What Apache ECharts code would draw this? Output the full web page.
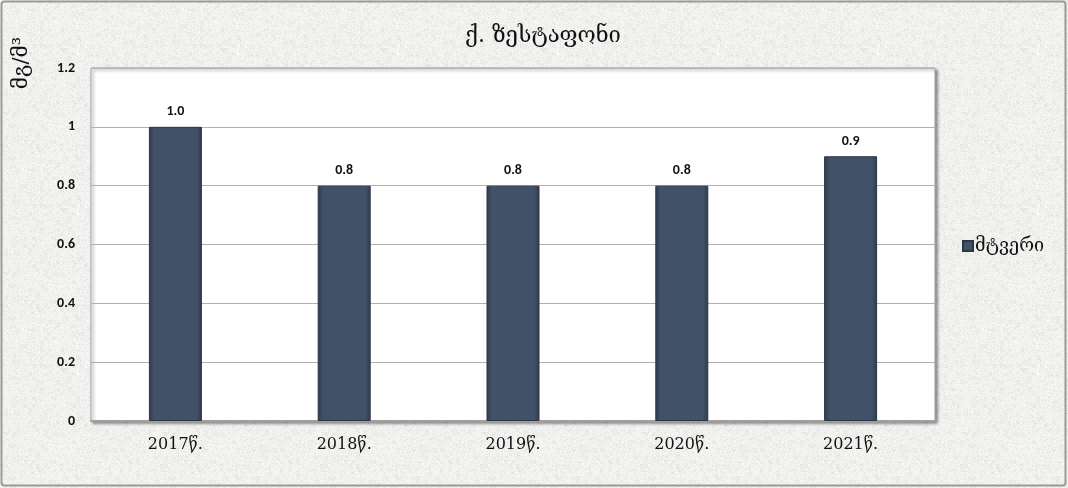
<!DOCTYPE html>
<html>
<head>
<meta charset="utf-8">
<script src="https://cdn.jsdelivr.net/npm/echarts@6/dist/echarts.min.js"></script>
<style>
  html, body { margin: 0; padding: 0; background: #ffffff; }
  #chart { width: 1068px; height: 488px; }
</style>
</head>
<body>
<div id="chart"></div>
<script>
const titleText = 'ქ. ზესტაფონი';
const unitLabel = 'მგ/მ³';
const seriesName = 'მტვერი';
const categories = ['2017წ.', '2018წ.', '2019წ.', '2020წ.', '2021წ.'];
const dustValues = [1.0, 0.8, 0.8, 0.8, 0.9];

// Speckled stone-like paper texture for the chart background (deterministic hash noise)
function hash(x, y) {
  let h = Math.imul(x, 0x27d4eb2d) ^ Math.imul(y, 0x165667b1);
  h = Math.imul(h ^ (h >>> 15), 0x85ebca6b);
  h = Math.imul(h ^ (h >>> 13), 0xc2b2ae35);
  h ^= h >>> 16;
  return (h >>> 0) / 4294967296;
}
function makeTexture() {
  const size = 160;
  const c = document.createElement('canvas');
  c.width = size; c.height = size;
  const ctx = c.getContext('2d');
  ctx.fillStyle = '#f2f2f0';
  ctx.fillRect(0, 0, size, size);
  const img = ctx.getImageData(0, 0, size, size);
  for (let y = 0; y < size; y++) {
    for (let x = 0; x < size; x++) {
      const fine = hash(x, y);
      const coarse = hash(x >> 2, y >> 2);
      let d = 0;
      if (fine > 0.74) d -= 16 * (fine - 0.74) / 0.26;
      if (coarse > 0.82) d -= 5;
      if (fine < 0.12) d += 6;
      const i = (y * size + x) * 4;
      img.data[i] += d; img.data[i + 1] += d; img.data[i + 2] += d;
    }
  }
  ctx.putImageData(img, 0, 0);
  return c;
}

const chart = echarts.init(document.getElementById('chart'));
const labelFont = 'Carlito, Calibri, "Open Sans", "DejaVu Sans", sans-serif';
const geoFont = '"DejaVu Serif", "DejaVu Sans", serif';

chart.setOption({
  backgroundColor: { image: makeTexture(), repeat: 'repeat' },
  animation: false,
  title: {
    text: titleText,
    left: 538,
    top: 20,
    textAlign: 'center',
    textStyle: { fontFamily: geoFont, fontSize: 22, fontWeight: 'normal', color: '#111' }
  },
  legend: {
    orient: 'vertical',
    left: 957,
    top: 232,
    icon: 'rect',
    itemWidth: 10,
    itemHeight: 10,
    itemGap: 4,
    textStyle: { fontFamily: geoFont, fontSize: 18, color: '#111', padding: [0, 0, 0, -3] },
    data: [seriesName]
  },
  grid: {
    left: 91,
    right: 133,
    top: 68,
    bottom: 67,
    show: true,
    backgroundColor: '#ffffff',
    borderColor: '#a5a5a5',
    borderWidth: 1,
    shadowColor: 'rgba(0,0,0,0.45)',
    shadowBlur: 3,
    shadowOffsetX: 2,
    shadowOffsetY: 2
  },
  xAxis: {
    type: 'category',
    data: categories,
    axisLine: { show: true, lineStyle: { color: '#a0a0a0', width: 2 } },
    axisTick: { show: false },
    axisLabel: { fontFamily: geoFont, fontSize: 16, color: '#111', margin: 16 }
  },
  yAxis: {
    type: 'value',
    min: 0,
    max: 1.2,
    interval: 0.2,
    axisLine: { show: false },
    axisTick: { show: false },
    axisLabel: { fontFamily: labelFont, fontSize: 14, fontWeight: 'bold', color: '#111', margin: 16 },
    splitLine: { lineStyle: { color: '#b0b0b0', width: 1 } }
  },
  series: [{
    name: seriesName,
    type: 'bar',
    data: dustValues,
    barWidth: 53,
    itemStyle: {
      color: {
        type: 'linear', x: 0, y: 0, x2: 1, y2: 0,
        colorStops: [
          { offset: 0, color: '#2f3b4c' },
          { offset: 0.1, color: '#415168' },
          { offset: 0.9, color: '#415168' },
          { offset: 1, color: '#2f3b4c' }
        ]
      },
      borderColor: '#2b3544',
      borderWidth: 1
    },
    label: {
      show: true,
      position: 'top',
      distance: 8,
      formatter: p => p.value.toFixed(1),
      fontFamily: labelFont,
      fontSize: 14,
      fontWeight: 'bold',
      color: '#111'
    }
  }],
  graphic: [
    {
      // y-axis unit, read bottom-to-top in the top-left corner
      type: 'group',
      x: 22,
      y: 63,
      rotation: Math.PI / 2,
      silent: true,
      children: [{
        type: 'text',
        x: 0,
        y: 0,
        style: {
          text: unitLabel,
          fontFamily: geoFont,
          fontSize: 21,
          fill: '#111',
          align: 'center',
          verticalAlign: 'middle'
        }
      }]
    },
    {
      type: 'rect',
      shape: { x: 1.5, y: 1.5, width: 1064, height: 484, r: 3 },
      style: { fill: null, stroke: '#9a9a9a', lineWidth: 2 },
      silent: true
    }
  ]
});
</script>
</body>
</html>
